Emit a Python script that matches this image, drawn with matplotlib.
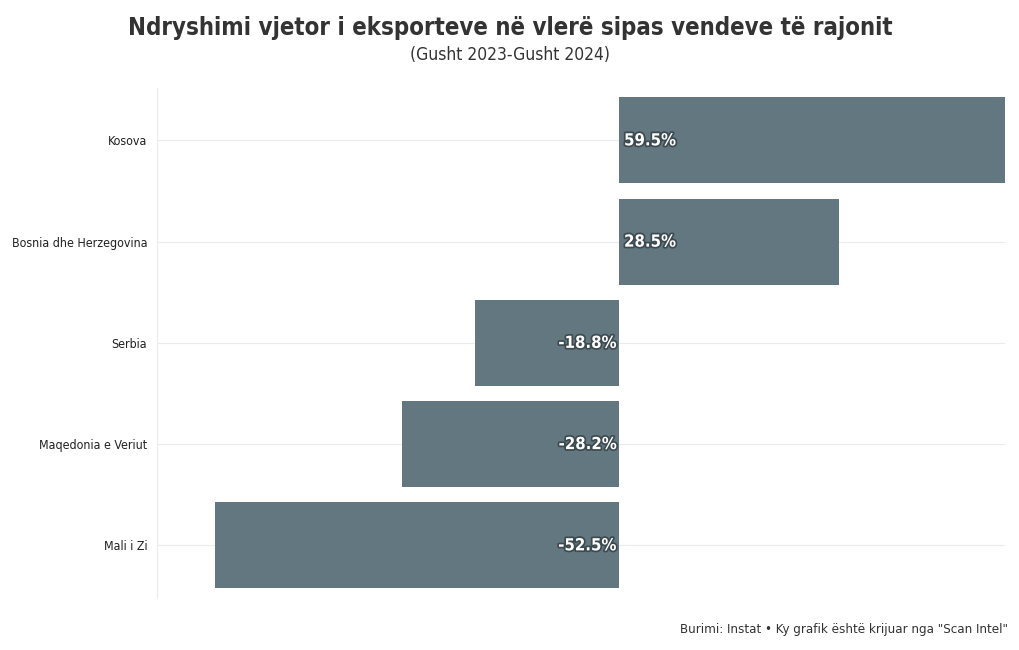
import matplotlib
matplotlib.use("Agg")
import matplotlib.pyplot as plt
import matplotlib.patheffects as pe

###Data###
countries = ["Kosova", "Bosnia dhe Herzegovina", "Serbia", "Maqedonia e Veriut", "Mali i Zi"]
changes = [59.5, 28.5, -18.8, -28.2, -52.5]

###Style###
plt.rcParams['font.family'] = ['DejaVu Sans']
plt.rcParams['font.stretch'] = 'condensed'
BAR_COLOR = "#62777f"
TEXT_COLOR = "#333333"

fig = plt.figure(figsize=(10.2, 6.5), dpi=100)
ax = fig.add_axes([0.154, 0.08, 0.831, 0.785])

y = list(range(len(countries)))
ax.barh(y, changes, height=0.85, color=BAR_COLOR, zorder=2)
ax.set_xlim(-60, 50)
ax.set_ylim(4.52, -0.52)

ax.set_yticks(y)
ax.set_yticklabels(countries, fontsize=8.9, color="#222222")
ax.tick_params(axis="y", length=0, pad=7)
ax.set_xticks([])
ax.grid(axis="y", color="#ebebeb", linewidth=0.8, zorder=0)
for side in ["top", "right", "bottom"]:
    ax.spines[side].set_visible(False)
ax.spines["left"].set_color("#ebebeb")

for yi, v in zip(y, changes):
    ha = "left" if v >= 0 else "right"
    off = 0.6 if v >= 0 else -0.4
    ax.text(off, yi, f"{v:.1f}%", ha=ha, va="center", color="white",
            fontsize=12, fontweight="bold", zorder=3,
            path_effects=[pe.withStroke(linewidth=2.5, foreground="#3d4a50")])

fig.text(0.5, 0.957, "Ndryshimi vjetor i eksporteve në vlerë sipas vendeve të rajonit",
         ha="center", va="center", fontsize=17.2, fontweight="bold", color=TEXT_COLOR)
fig.text(0.5, 0.915, "(Gusht 2023-Gusht 2024)", ha="center", va="center",
         fontsize=12.5, color=TEXT_COLOR)
fig.text(0.988, 0.032, "Burimi: Instat • Ky grafik është krijuar nga \"Scan Intel\"",
         ha="right", va="center", fontsize=9.5, color=TEXT_COLOR)

fig.savefig("out.png", dpi=100)
